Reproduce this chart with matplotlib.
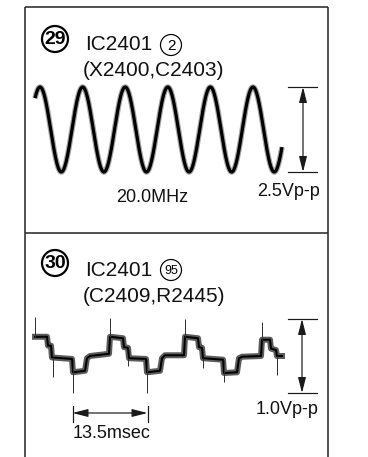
import numpy as np
import matplotlib
matplotlib.use("Agg")
from matplotlib import pyplot as plt
from matplotlib.patches import Circle
from matplotlib.transforms import blended_transform_factory

plt.rcParams['font.family'] = ['Liberation Sans', 'DejaVu Sans']

W, H = 368, 457          # figure size in pixels
PT = 0.72                # points per pixel at dpi 100

# waveform 29: IC2401 pin 2, sine
sine_freq_mhz = 20.0
sine_vpp = 2.5
sine_t_start_ns = 0.0
sine_t_end_ns = 290.0
sine_t_peak_ns = 5.9

# waveform 30: IC2401 pin 95, stepped signal (msec, volts)
step_t = [0.0, 2.16, 2.34, 2.88, 3.06, 6.66, 6.84, 9.0, 9.36, 9.9, 13.32, 13.5,
          15.84, 16.02, 16.74, 16.92, 19.98, 20.16, 22.5, 22.86, 23.4, 26.82, 27.0,
          29.34, 29.52, 30.06, 30.24, 33.84, 34.02, 36.36, 36.72, 37.26, 40.68,
          40.86, 42.3, 42.48, 43.38, 43.56, 44.46]
step_v = [0.76, 0.76, 0.64, 0.64, 0.48, 0.46, 0.28, 0.30, 0.47, 0.50, 0.53, 0.76,
          0.74, 0.62, 0.61, 0.47, 0.46, 0.28, 0.30, 0.47, 0.51, 0.51, 0.76,
          0.74, 0.62, 0.61, 0.47, 0.45, 0.27, 0.28, 0.47, 0.49, 0.50,
          0.72, 0.72, 0.60, 0.58, 0.50, 0.50]
spike_t = [0.0, 13.5, 27.0, 40.86, 6.75, 20.16, 33.93, 3.24, 16.74, 30.24, 43.56]
spike_from = [0.76, 0.76, 0.76, 0.72, 0.46, 0.46, 0.45, 0.47, 0.47, 0.47, 0.50]
spike_to = [1.03, 1.01, 1.00, 0.96, 0.0, 0.0, 0.15, 0.22, 0.36, 0.34, 0.24]
step_vpp = 1.0
step_period_ms = 13.5
step_period_start_ms = 6.75

fig = plt.figure(figsize=(W / 100, H / 100), dpi=100)

# overlay in pixel coordinates for frame, labels and circles
ov = fig.add_axes([0, 0, 1, 1])
ov.set_xlim(0, W)
ov.set_ylim(H, 0)
ov.axis('off')


def scope_axes(x0, x1, y_top, y_bot):
    ax = fig.add_axes([x0 / W, 1 - y_bot / H, (x1 - x0) / W, (y_bot - y_top) / H])
    ax.axis('off')
    return ax


# frame
frame_kw = dict(color='#2b2b2b', lw=1.6 * PT, solid_capstyle='butt')
ov.plot([25, 25], [7, H], **frame_kw)
ov.plot([327.5, 327.5], [7, H], **frame_kw)
ov.plot([25, 327.5], [7.3, 7.3], **frame_kw)
ov.plot([25, 327.5], [233, 233], **frame_kw)


def big_badge(x, y, label):
    ov.add_patch(Circle((x, y), 13, fill=False, lw=2.2 * PT, ec='black'))
    ov.text(x, y + 0.5, label, ha='center', va='center', fontsize=14,
            fontweight='bold', color='black')


def small_badge(x, y, label, size):
    ov.add_patch(Circle((x, y), 10.5, fill=False, lw=1.2 * PT, ec='black'))
    ov.text(x, y + 0.5, label, ha='center', va='center', fontsize=size, color='black')


title_kw = dict(fontsize=15, color='#111111', va='center', ha='left')
note_kw = dict(fontsize=13, color='#111111', va='center')
arrow_kw = dict(arrowstyle='<|-|>,head_length=0.55,head_width=0.14', color='#1a1a1a',
                lw=1.2 * PT, shrinkA=0, shrinkB=0, mutation_scale=17)

# ---- panel 29 ----
big_badge(55, 39, '29')
ov.text(85, 45, 'IC2401', **title_kw)
small_badge(171, 45, '2', 11)
ov.text(83, 70, '(X2400,C2403)', **title_kw)
ov.text(152, 198, '20.0MHz', ha='center', **note_kw)
ov.text(289, 192, '2.5Vp-p', ha='center', **note_kw)

ax1 = scope_axes(35, 282, 87, 172)
ax1.set_xlim(sine_t_start_ns, sine_t_end_ns)
ax1.set_ylim(-sine_vpp / 2, sine_vpp / 2)
t_ns = np.linspace(sine_t_start_ns, sine_t_end_ns, 1200)
v_sine = sine_vpp / 2 * np.cos(2 * np.pi * sine_freq_mhz / 1000 * (t_ns - sine_t_peak_ns))
ax1.plot(t_ns, v_sine, color='black', lw=5.5 * PT, alpha=0.35, clip_on=False,
         solid_capstyle='butt')
ax1.plot(t_ns, v_sine, color='black', lw=3.2 * PT, clip_on=False, solid_capstyle='butt')

tr1 = blended_transform_factory(ov.transData, ax1.transData)
for lvl in (-sine_vpp / 2, sine_vpp / 2):
    ov.plot([288, 317], [lvl, lvl], color='#1a1a1a', lw=1.2 * PT, transform=tr1)
ov.annotate('', xy=(303, sine_vpp / 2), xytext=(303, -sine_vpp / 2),
            xycoords=tr1, textcoords=tr1, arrowprops=arrow_kw)

# ---- panel 30 ----
big_badge(55, 263, '30')
ov.text(85, 270, 'IC2401', **title_kw)
small_badge(171, 270, '95', 9)
ov.text(83, 297, '(C2409,R2445)', **title_kw)
ov.text(287, 410, '1.0Vp-p', ha='center', **note_kw)
ov.text(73, 433, '13.5msec', ha='left', **note_kw)

ax2 = scope_axes(35, 282, 319, 393)
ax2.set_xlim(step_t[0], step_t[-1])
ax2.set_ylim(0, step_vpp)
# noise band, then the trace core
ax2.plot(step_t, step_v, color='#333333', lw=6.0 * PT, alpha=0.8, clip_on=False,
         solid_joinstyle='round')
ax2.plot(step_t, step_v, color='black', lw=2.0 * PT, clip_on=False,
         solid_joinstyle='round')
ax2.vlines(spike_t, spike_from, spike_to, color='#333333', lw=1.0 * PT, clip_on=False)

tr2 = blended_transform_factory(ov.transData, ax2.transData)
for lvl in (0, step_vpp):
    ov.plot([288, 317], [lvl, lvl], color='#1a1a1a', lw=1.2 * PT, transform=tr2)
ov.annotate('', xy=(302, step_vpp), xytext=(302, 0),
            xycoords=tr2, textcoords=tr2, arrowprops=arrow_kw)

# time span marker for one period
tr3 = blended_transform_factory(ax2.transData, ov.transData)
t_a = step_period_start_ms
t_b = step_period_start_ms + step_period_ms
ov.plot([t_a, t_a], [406, 422], color='#1a1a1a', lw=1.2 * PT, transform=tr3)
ov.plot([t_b, t_b], [406, 422], color='#1a1a1a', lw=1.2 * PT, transform=tr3)
ov.annotate('', xy=(t_b, 413), xytext=(t_a, 413), xycoords=tr3, textcoords=tr3,
            arrowprops=arrow_kw)

fig.savefig('out.png', dpi=100, facecolor='white')
